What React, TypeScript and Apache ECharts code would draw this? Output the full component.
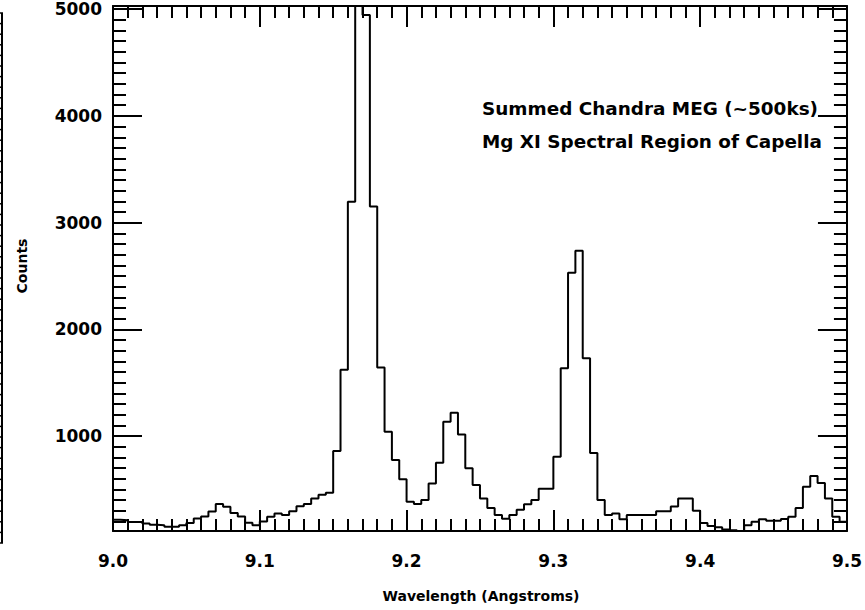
import React, { useEffect, useRef } from "react";
import * as echarts from "echarts";

// Histogram: Chandra MEG counts, 0.005 Å bins starting at 9.000 Å
const BIN_START = 9.0;
const BIN_WIDTH = 0.005;
const counts = [
  215, 210, 195, 195, 180, 168, 165, 150, 150, 165,
  185, 228, 245, 292, 362, 337, 278, 245, 187, 165,
  200, 243, 275, 259, 295, 342, 362, 415, 450, 469,
  859, 1620, 3196, 5030, 4945, 3150, 1643, 1040, 775, 594,
  384, 362, 400, 556, 750, 1134, 1218, 1015, 697, 540,
  415, 325, 259, 225, 259, 310, 360, 400, 505, 505,
  806, 1635, 2531, 2737, 1728, 840, 400, 259, 275, 219,
  259, 259, 259, 259, 295, 295, 340, 415, 415, 300,
  185, 156, 145, 125, 118, 110, 165, 197, 219, 206,
  206, 222, 244, 325, 525, 625, 560, 415, 244, 197,
];

const X_MIN = 9.0;
const X_MAX = 9.5;
const Y_MIN = 110;
const Y_MAX = 5030;
const xMajorTicks = [9.0, 9.1, 9.2, 9.3, 9.4, 9.5];
const yMajorTicks = [1000, 2000, 3000, 4000, 5000];
const xTitle = "Wavelength (Angstroms)";
const yTitle = "Counts";
const annotationLines = ["Summed Chandra MEG (~500ks)", "Mg XI Spectral Region of Capella"];

const FONT = "DejaVu Sans";

export default function App() {
  const ref = useRef<HTMLDivElement>(null);

  useEffect(() => {
    if (!ref.current) return;
    const chart = echarts.init(ref.current, null, { renderer: "svg" });

    const xMinor: number[] = [];
    for (let i = 900; i <= 950; i++) {
      if (i % 10 !== 0) xMinor.push(i / 100);
    }
    const yMinor: number[] = [];
    for (let v = 200; v <= 5000; v += 100) {
      if (v % 1000 !== 0) yMinor.push(v);
    }

    const data: number[][] = counts.map((c, i) => [BIN_START + i * BIN_WIDTH, c]);
    data.push([BIN_START + counts.length * BIN_WIDTH, counts[counts.length - 1]]);

    const black = "#000";
    const labelStyle = {
      color: black,
      fontFamily: FONT,
      fontWeight: "bold" as const,
      fontSize: 17,
    };

    const makeX = (position: "top" | "bottom", major: boolean, showLabel: boolean) => ({
      type: "value" as const,
      position,
      min: X_MIN,
      max: X_MAX,
      axisLine: { show: major, onZero: false, lineStyle: { color: black, width: 2 } },
      axisTick: {
        show: true,
        inside: true,
        length: major ? 21 : 12,
        customValues: major ? xMajorTicks : xMinor,
        lineStyle: { color: black, width: 2 },
      },
      axisLabel: {
        show: showLabel,
        customValues: xMajorTicks,
        formatter: (v: number) => v.toFixed(1),
        margin: 21,
        ...labelStyle,
      },
      splitLine: { show: false },
    });

    const makeY = (position: "left" | "right", major: boolean, showLabel: boolean) => ({
      type: "value" as const,
      position,
      min: Y_MIN,
      max: Y_MAX,
      axisLine: { show: major, onZero: false, lineStyle: { color: black, width: 2 } },
      axisTick: {
        show: true,
        inside: true,
        length: major ? 29 : 13,
        customValues: major ? yMajorTicks : yMinor,
        lineStyle: { color: black, width: 2 },
      },
      axisLabel: {
        show: showLabel,
        customValues: yMajorTicks,
        formatter: (v: number) => String(v),
        margin: 11,
        ...labelStyle,
      },
      splitLine: { show: false },
    });

    // decorative partial frame of a neighbouring panel at the left page edge
    const edgeChildren: any[] = [
      { type: "line", shape: { x1: 2, y1: 13, x2: 2, y2: 543 }, style: { stroke: black, lineWidth: 2 } },
    ];
    for (let k = 0; k <= 50; k++) {
      const y = 13 + k * 10.6;
      edgeChildren.push({
        type: "line",
        shape: { x1: 0, y1: y, x2: 3, y2: y },
        style: { stroke: black, lineWidth: 1.5 },
      });
    }

    chart.setOption({
      animation: false,
      backgroundColor: "#fff",
      grid: { left: 113, right: 16, top: 6, bottom: 79, show: false },
      xAxis: [
        makeX("bottom", true, true),
        makeX("bottom", false, false),
        makeX("top", true, false),
        makeX("top", false, false),
      ],
      yAxis: [
        makeY("left", true, true),
        makeY("left", false, false),
        makeY("right", true, false),
        makeY("right", false, false),
      ],
      series: [
        {
          type: "line",
          step: "end",
          xAxisIndex: 0,
          yAxisIndex: 0,
          data,
          symbol: "none",
          lineStyle: { color: black, width: 2 },
          silent: true,
        },
      ],
      graphic: [
        { type: "group", children: edgeChildren },
        {
          type: "text",
          x: 22,
          y: 266,
          rotation: Math.PI / 2,
          style: {
            text: yTitle,
            fill: black,
            font: `bold 14px "${FONT}"`,
            textAlign: "center",
            textVerticalAlign: "middle",
            verticalAlign: "middle",
          },
        },
        {
          type: "text",
          x: 481,
          y: 596,
          style: {
            text: xTitle,
            fill: black,
            font: `bold 14px "${FONT}"`,
            textAlign: "center",
            textVerticalAlign: "middle",
            verticalAlign: "middle",
          },
        },
        ...annotationLines.map((t, i) => ({
          type: "text",
          x: 482,
          y: 108 + i * 33,
          style: {
            text: t,
            fill: black,
            font: `bold 18.4px "${FONT}"`,
            textAlign: "left",
            textVerticalAlign: "middle",
            verticalAlign: "middle",
          },
        })),
      ],
    });

    return () => chart.dispose();
  }, []);

  return (
    <div
      ref={ref}
      style={{ position: "fixed", left: 0, top: 0, width: 865, height: 610, background: "#fff" }}
    />
  );
}
